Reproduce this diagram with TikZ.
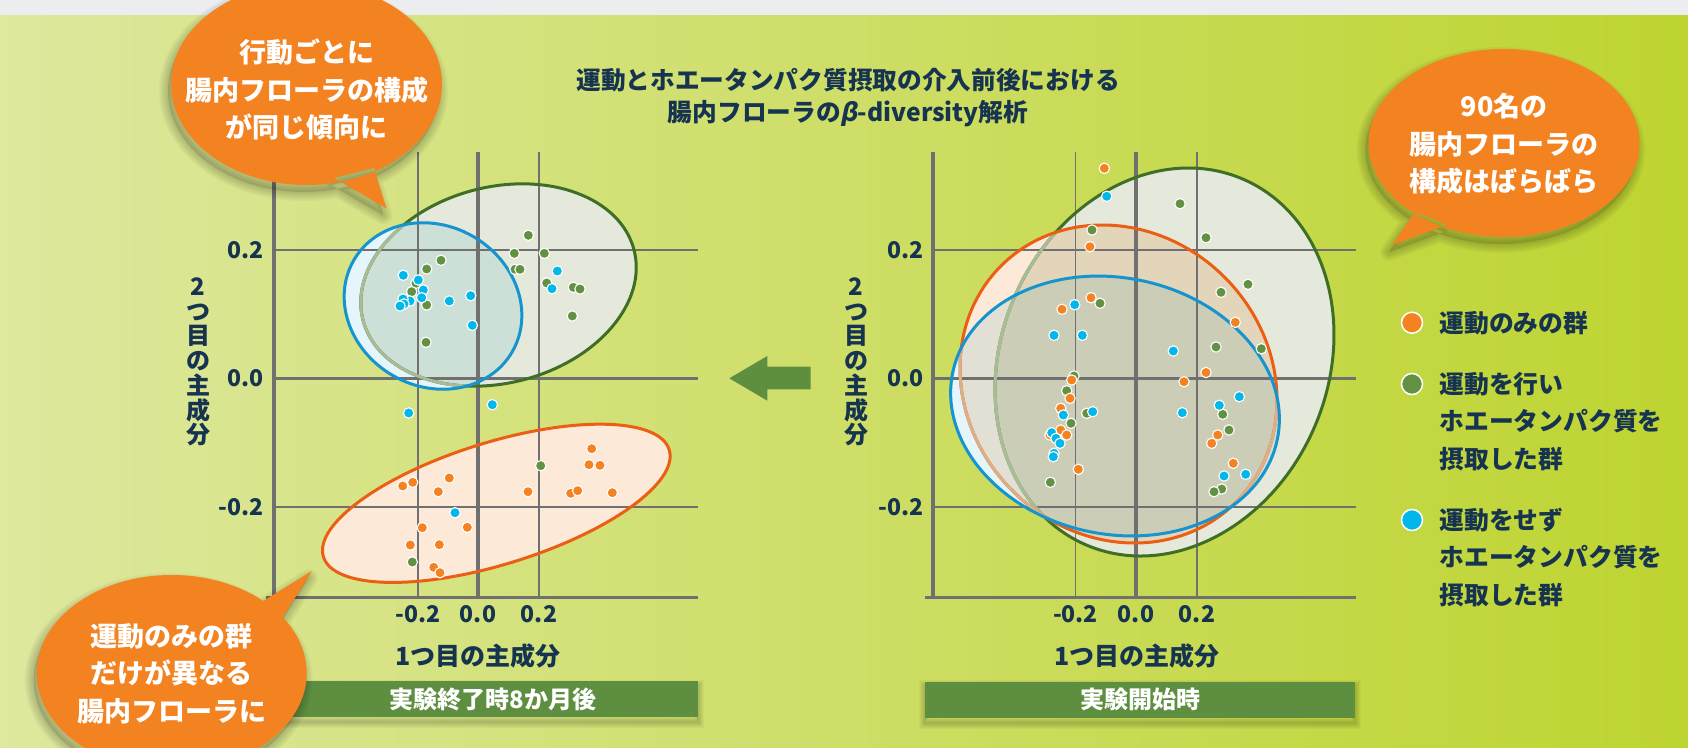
\documentclass[tikz,border=0pt]{standalone}
\usepackage{fontspec}
\setmainfont{Noto Sans CJK JP}
\newfontfamily\betafont{Noto Sans CJK JP}[FakeSlant=0.2]
\usetikzlibrary{positioning}

\definecolor{navy}{RGB}{22,52,80}
\definecolor{topgray}{RGB}{236,237,239}
\definecolor{bgL}{RGB}{222,232,158}
\definecolor{bgM}{RGB}{205,222,100}
\definecolor{bgR}{RGB}{190,212,48}
\definecolor{calloutorange}{RGB}{243,130,33}
\definecolor{bannergreen}{RGB}{94,143,65}
\definecolor{axisgray}{RGB}{112,112,112}
\definecolor{dotO}{RGB}{245,130,32}
\definecolor{dotG}{RGB}{98,145,65}
\definecolor{dotB}{RGB}{0,183,235}
\definecolor{lineO}{RGB}{235,95,20}
\definecolor{lineG}{RGB}{63,110,38}
\definecolor{lineB}{RGB}{22,148,205}
\definecolor{fadeG}{RGB}{168,188,150}
\definecolor{fadeO}{RGB}{220,175,135}
\definecolor{fillO}{RGB}{253,233,216}
\definecolor{fillG}{RGB}{229,233,219}
\definecolor{fillB}{RGB}{228,245,252}
\definecolor{fillGO}{RGB}{227,213,186}
\definecolor{fillGB}{RGB}{205,224,216}
\definecolor{fillOB}{RGB}{226,224,213}
\definecolor{fillGOB}{RGB}{203,205,183}

% group outlines, each around its own centre
\newcommand\ovalEG{(0,0) ellipse [x radius=140, y radius=98]}
\newcommand\ovalEB{(0,0) ellipse [x radius=91.5, y radius=80.3]}
\newcommand\ovalEO{(0,0) ellipse [x radius=181, y radius=61]}
\newcommand\ovalSG{(0,0) ellipse [x radius=163.5, y radius=199]}
\newcommand\ovalSO{(0,0) ellipse [x radius=166.6, y radius=150.5]}
\newcommand\ovalSB{(0,0) ellipse [x radius=165.7, y radius=128.2]}

% callout balloons
\newcommand\bubSame{(306.5,84) ellipse [x radius=135.5, y radius=101] (334,178) -- (386.4,208.3) -- (374,168) -- cycle}
\newcommand\bubVary{(1504,143) ellipse [x radius=135.5, y radius=94] (1415,212) -- (1392,245) -- (1447,225) -- cycle}
\newcommand\bubDiff{(171.7,673) ellipse [x radius=135, y radius=98] (260,603) -- (312,571) -- (281,620) -- cycle}

\begin{document}
\begin{tikzpicture}[x=1pt, y=-1pt,
  ticklab/.style = {font=\bfseries\fontsize{23}{23}\selectfont, text=navy, inner sep=0pt},
  axlabel/.style = {font=\bfseries\fontsize{25}{25}\selectfont, text=navy, inner sep=0pt},
  ylabel/.style = {font=\bfseries\fontsize{24}{24.7}\selectfont, text=navy, inner sep=0pt, align=center},
  legtext/.style = {font=\bfseries\fontsize{24.8}{25}\selectfont, text=navy, inner sep=0pt},
  note/.style = {font=\bfseries\fontsize{27}{37.5}\selectfont, text=white, align=center, inner sep=0pt},
  banner/.style = {fill=bannergreen, text=white, font=\bfseries\fontsize{24}{24}\selectfont, minimum height=36, inner sep=0pt},
  legdot/.style = {circle, draw=white, line width=1.5, minimum size=21, inner sep=0pt},
  gridthin/.style = {draw=axisgray, line width=1.8},
  gridthick/.style = {draw=axisgray, line width=3.6},
  ring/.style = {line width=3},
  ptO/.style = {fill=dotO, draw=white, line width=1.1},
  ptG/.style = {fill=dotG, draw=white, line width=1.1},
  ptB/.style = {fill=dotB, draw=white, line width=1.1},
  eG/.style = {shift={(498.5,285)}, rotate=14.5},
  eB/.style = {shift={(433,306)}, rotate=-30},
  eO/.style = {shift={(496.3,503.3)}, rotate=17.2},
  sG/.style = {shift={(1164.5,362)}, rotate=-23.1},
  sO/.style = {shift={(1118.5,384)}, rotate=-45.9},
  sB/.style = {shift={(1115,406)}, rotate=-11.6}
]

  % Background
  \useasboundingbox (0,0) rectangle (1688,747);
  \clip (0,0) rectangle (1688,747);
  \fill[topgray] (0,0) rectangle (1688,15);
  \shade[left color=bgL, middle color=bgM, right color=bgR] (0,15) rectangle (1688,747);

  % Title
  \node[font=\bfseries\fontsize{24.7}{31.3}\selectfont, text=navy, align=center, inner sep=0pt] (title) at (848,97.5)
    {運動とホエータンパク質摂取の介入前後における\\腸内フローラの{\betafont β}-diversity解析};

  % Left plot: 8 months later
  \fill[eG, fill=fillG] \ovalEG;
  \fill[eB, fill=fillB] \ovalEB;
  \begin{scope}
    \clip[eG] \ovalEG;
    \fill[eB, fill=fillGB] \ovalEB;
  \end{scope}
  \fill[eO, fill=fillO] \ovalEO;

  \draw[gridthin] (418,152) -- (418,598) (539,152) -- (539,598)
    (274,250) -- (698,250) (274,506.7) -- (698,506.7);
  \draw[gridthick] (274,152) -- (274,598) (478,152) -- (478,598)
    (274,378.3) -- (698,378.3) (266,597.5) -- (698,597.5);

  \draw[eG, ring, draw=lineG] \ovalEG;
  \begin{scope}
    \clip[eB] \ovalEB;
    \draw[eG, ring, draw=fadeG] \ovalEG;
  \end{scope}
  \draw[eB, ring, draw=lineB] \ovalEB;
  \draw[eO, ring, draw=lineO] \ovalEO;

  \foreach \x/\y in {441/260.3, 426.7/269, 416/283.3, 411.7/291.7, 426.7/305, 426/342.3,
      528.3/235.3, 514.3/253.3, 544.3/253.3, 515/269.3, 520/269.3, 546.7/283,
      573.3/287.3, 580/289, 572.3/316, 540.7/465.7, 412.3/562}
    \filldraw[ptG] (\x,\y) circle [radius=5.2];
  \foreach \x/\y in {591.7/448.7, 589/464.7, 600/465.3, 612.3/492.7, 570.7/493.3, 577.7/490.7,
      528/491.7, 402.7/486, 412.7/482.3, 449.3/478, 438.3/491.7, 422.3/527.7,
      467.3/527.3, 410.3/545, 439.3/544.7, 433.7/567.3, 440/572.7}
    \filldraw[ptO] (\x,\y) circle [radius=5.2];
  \foreach \x/\y in {403.3/275.3, 418.3/280, 423.3/290, 421.7/297.7, 410/301, 403/299,
      404/304, 400/306, 449.3/301, 470.7/295.7, 472.3/325.3, 557.3/271, 552/288.7,
      408.7/413, 492.3/404.7, 455/512.7}
    \filldraw[ptB] (\x,\y) circle [radius=5.2];

  \node[ticklab, anchor=east] (ytopE) at (264,250) {0.2};
  \node[ticklab, anchor=east] (yzeroE) at (264,378.3) {0.0};
  \node[ticklab, anchor=east] (ybotE) at (264,506.7) {-0.2};
  \node[ticklab] (xleftE) at (418,614) {-0.2};
  \node[ticklab] (xzeroE) at (478,614) {0.0};
  \node[ticklab] (xrightE) at (539,614) {0.2};
  \node[axlabel] (xlabE) at (478,656) {1つ目の主成分};
  \node[ylabel] (ylabE) at (198,362) {2\\つ\\目\\の\\主\\成\\分};

  \foreach \k in {2,4,...,12}
    \draw[black, opacity=0.03, line width=\k, yshift=-5] (288,681) rectangle (698,717);
  \node[banner, minimum width=410] (bannerEnd) at (493,699) {実験終了時8か月後};

  % Arrow between the plots
  \fill[bannergreen] (729.3,378.3) -- (767.3,356) -- (767.3,366.7) -- (810.7,366.7)
    -- (810.7,389.3) -- (767.3,389.3) -- (767.3,400.7) -- cycle;

  % Right plot: start
  \fill[sG, fill=fillG] \ovalSG;
  \fill[sO, fill=fillO] \ovalSO;
  \fill[sB, fill=fillB] \ovalSB;
  \begin{scope}
    \clip[sG] \ovalSG;
    \fill[sO, fill=fillGO] \ovalSO;
    \fill[sB, fill=fillGB] \ovalSB;
  \end{scope}
  \begin{scope}
    \clip[sO] \ovalSO;
    \fill[sB, fill=fillOB] \ovalSB;
  \end{scope}
  \begin{scope}
    \clip[sG] \ovalSG;
    \clip[sO] \ovalSO;
    \fill[sB, fill=fillGOB] \ovalSB;
  \end{scope}

  \draw[gridthin] (1075.5,152) -- (1075.5,598) (1197,152) -- (1197,598)
    (933,250) -- (1355.5,250) (933,506.7) -- (1355.5,506.7);
  \draw[gridthick] (933,152) -- (933,598) (1136,152) -- (1136,598)
    (933,378.3) -- (1355.5,378.3) (925,597.5) -- (1355.5,597.5);

  \draw[sG, ring, draw=lineG] \ovalSG;
  \begin{scope}
    \clip[sO] \ovalSO;
    \draw[sG, ring, draw=fadeG] \ovalSG;
  \end{scope}
  \begin{scope}
    \clip[sB] \ovalSB;
    \draw[sG, ring, draw=fadeG] \ovalSG;
  \end{scope}
  \draw[sO, ring, draw=lineO] \ovalSO;
  \begin{scope}
    \clip[sB] \ovalSB;
    \draw[sO, ring, draw=fadeO] \ovalSO;
  \end{scope}
  \draw[sB, ring, draw=lineB] \ovalSB;

  \foreach \x/\y in {1092/230, 1180/203.7, 1206/237.7, 1100/303.3, 1248/284.3, 1221/292.3,
      1216/347, 1261.3/348.7, 1074/376, 1066.7/390.7, 1086.7/413.3, 1071/423.3,
      1222.7/414.3, 1229/430, 1050.3/482.3, 1221.7/489, 1214/491.7}
    \filldraw[ptG] (\x,\y) circle [radius=5.2];
  \foreach \x/\y in {1104.3/168.3, 1090/246.7, 1091/297.7, 1062/309.3, 1235.3/322.3, 1206/372.5,
      1184/381.7, 1071.7/380, 1070/398.3, 1060.7/408.3, 1060.7/430, 1066.7/435,
      1050/435, 1078.3/469.3, 1217.7/435, 1211.7/443.3, 1233.3/463.3}
    \filldraw[ptO] (\x,\y) circle [radius=5.2];
  \foreach \x/\y in {1106.7/196.3, 1074.7/304.7, 1054/335.3, 1082.3/335.3, 1173.3/351, 1182.3/412.7,
      1219.3/405.3, 1239.3/396.7, 1092.7/411.7, 1063.3/415, 1051.7/432.7, 1056/438.3,
      1060/443.3, 1054/453.3, 1053.3/456.7, 1224/476, 1245.7/474.3}
    \filldraw[ptB] (\x,\y) circle [radius=5.2];

  \node[ticklab, anchor=east] (ytopS) at (924,250) {0.2};
  \node[ticklab, anchor=east] (yzeroS) at (924,378.3) {0.0};
  \node[ticklab, anchor=east] (ybotS) at (924,506.7) {-0.2};
  \node[ticklab] (xleftS) at (1075.5,614) {-0.2};
  \node[ticklab] (xzeroS) at (1136,614) {0.0};
  \node[ticklab] (xrightS) at (1197,614) {0.2};
  \node[axlabel] (xlabS) at (1137,656) {1つ目の主成分};
  \node[ylabel] (ylabS) at (856,362) {2\\つ\\目\\の\\主\\成\\分};

  \foreach \k in {2,4,...,12}
    \draw[black, opacity=0.03, line width=\k, yshift=-5] (925,681) rectangle (1355,718);
  \node[banner, minimum width=430] (bannerStart) at (1140,699.5) {実験開始時};

  % Legend
  \node[legdot, fill=dotO] (legO) at (1412,322.7) {};
  \node[legtext, right=16pt of legO] (legOtext) {運動のみの群};
  \node[legdot, fill=dotG] (legG) at (1412,384) {};
  \node[legtext, right=16pt of legG] (legGtext1) {運動を行い};
  \node[legtext, below=37.6pt of legGtext1.west, anchor=west] (legGtext2) {ホエータンパク質を};
  \node[legtext, below=37.6pt of legGtext2.west, anchor=west] (legGtext3) {摂取した群};
  \node[legdot, fill=dotB] (legB) at (1412,520) {};
  \node[legtext, right=16pt of legB] (legBtext1) {運動をせず};
  \node[legtext, below=37.6pt of legBtext1.west, anchor=west] (legBtext2) {ホエータンパク質を};
  \node[legtext, below=37.6pt of legBtext2.west, anchor=west] (legBtext3) {摂取した群};

  % Callouts
  \fill[black, opacity=0.12, xshift=-3, yshift=-7] \bubSame \bubVary \bubDiff;
  \foreach \k in {3,6,...,18}
    \draw[black, opacity=0.03, line width=\k, line join=round, xshift=-3, yshift=-7] \bubSame \bubVary \bubDiff;
  \fill[calloutorange] \bubSame \bubVary \bubDiff;
  \node[note] (noteSame) at (306.5,89.5) {行動ごとに\\腸内フローラの構成\\が同じ傾向に};
  \node[note] (noteVary) at (1504,144) {90名の\\腸内フローラの\\構成はばらばら};
  \node[note] (noteDiff) at (171.7,673.5) {運動のみの群\\だけが異なる\\腸内フローラに};

\end{tikzpicture}
\end{document}
